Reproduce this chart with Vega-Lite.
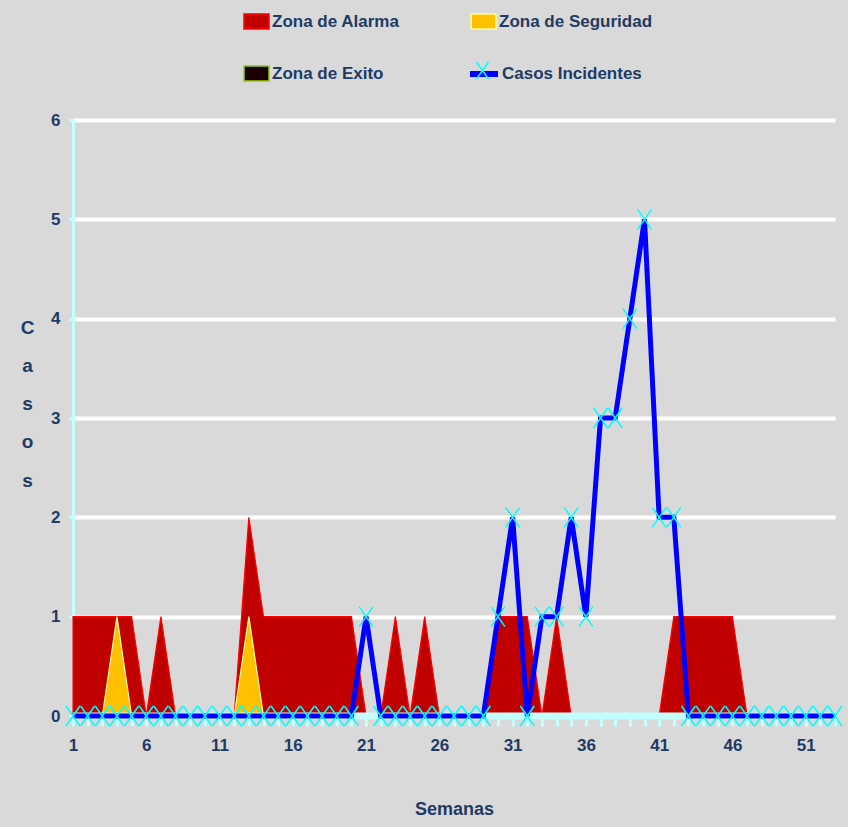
{
  "$schema": "https://vega.github.io/schema/vega-lite/v6.json",
  "width": 762,
  "height": 596,
  "autosize": {"type": "none"},
  "padding": {"left": 73, "top": 120, "right": 13, "bottom": 111},
  "background": "#D9D9D9",
  "config": {
    "view": {"stroke": null},
    "font": "Liberation Sans, Arial, sans-serif",
    "legend": {
      "labelFont": "Liberation Sans, Arial, sans-serif",
      "labelFontSize": 17,
      "labelFontWeight": "bold",
      "labelColor": "#1F3B63",
      "labelLimit": 300,
      "padding": 0
    }
  },
  "data": {
    "values": [
      {"semana": 1, "Zona de Alarma": 1, "Zona de Seguridad": 0, "Zona de Exito": 0, "casos": 0},
      {"semana": 2, "Zona de Alarma": 1, "Zona de Seguridad": 0, "Zona de Exito": 0, "casos": 0},
      {"semana": 3, "Zona de Alarma": 1, "Zona de Seguridad": 0, "Zona de Exito": 0, "casos": 0},
      {"semana": 4, "Zona de Alarma": 1, "Zona de Seguridad": 1, "Zona de Exito": 0, "casos": 0},
      {"semana": 5, "Zona de Alarma": 1, "Zona de Seguridad": 0, "Zona de Exito": 0, "casos": 0},
      {"semana": 6, "Zona de Alarma": 0, "Zona de Seguridad": 0, "Zona de Exito": 0, "casos": 0},
      {"semana": 7, "Zona de Alarma": 1, "Zona de Seguridad": 0, "Zona de Exito": 0, "casos": 0},
      {"semana": 8, "Zona de Alarma": 0, "Zona de Seguridad": 0, "Zona de Exito": 0, "casos": 0},
      {"semana": 9, "Zona de Alarma": 0, "Zona de Seguridad": 0, "Zona de Exito": 0, "casos": 0},
      {"semana": 10, "Zona de Alarma": 0, "Zona de Seguridad": 0, "Zona de Exito": 0, "casos": 0},
      {"semana": 11, "Zona de Alarma": 0, "Zona de Seguridad": 0, "Zona de Exito": 0, "casos": 0},
      {"semana": 12, "Zona de Alarma": 0, "Zona de Seguridad": 0, "Zona de Exito": 0, "casos": 0},
      {"semana": 13, "Zona de Alarma": 2, "Zona de Seguridad": 1, "Zona de Exito": 0, "casos": 0},
      {"semana": 14, "Zona de Alarma": 1, "Zona de Seguridad": 0, "Zona de Exito": 0, "casos": 0},
      {"semana": 15, "Zona de Alarma": 1, "Zona de Seguridad": 0, "Zona de Exito": 0, "casos": 0},
      {"semana": 16, "Zona de Alarma": 1, "Zona de Seguridad": 0, "Zona de Exito": 0, "casos": 0},
      {"semana": 17, "Zona de Alarma": 1, "Zona de Seguridad": 0, "Zona de Exito": 0, "casos": 0},
      {"semana": 18, "Zona de Alarma": 1, "Zona de Seguridad": 0, "Zona de Exito": 0, "casos": 0},
      {"semana": 19, "Zona de Alarma": 1, "Zona de Seguridad": 0, "Zona de Exito": 0, "casos": 0},
      {"semana": 20, "Zona de Alarma": 1, "Zona de Seguridad": 0, "Zona de Exito": 0, "casos": 0},
      {"semana": 21, "Zona de Alarma": 0, "Zona de Seguridad": 0, "Zona de Exito": 0, "casos": 1},
      {"semana": 22, "Zona de Alarma": 0, "Zona de Seguridad": 0, "Zona de Exito": 0, "casos": 0},
      {"semana": 23, "Zona de Alarma": 1, "Zona de Seguridad": 0, "Zona de Exito": 0, "casos": 0},
      {"semana": 24, "Zona de Alarma": 0, "Zona de Seguridad": 0, "Zona de Exito": 0, "casos": 0},
      {"semana": 25, "Zona de Alarma": 1, "Zona de Seguridad": 0, "Zona de Exito": 0, "casos": 0},
      {"semana": 26, "Zona de Alarma": 0, "Zona de Seguridad": 0, "Zona de Exito": 0, "casos": 0},
      {"semana": 27, "Zona de Alarma": 0, "Zona de Seguridad": 0, "Zona de Exito": 0, "casos": 0},
      {"semana": 28, "Zona de Alarma": 0, "Zona de Seguridad": 0, "Zona de Exito": 0, "casos": 0},
      {"semana": 29, "Zona de Alarma": 0, "Zona de Seguridad": 0, "Zona de Exito": 0, "casos": 0},
      {"semana": 30, "Zona de Alarma": 1, "Zona de Seguridad": 0, "Zona de Exito": 0, "casos": 1},
      {"semana": 31, "Zona de Alarma": 1, "Zona de Seguridad": 0, "Zona de Exito": 0, "casos": 2},
      {"semana": 32, "Zona de Alarma": 1, "Zona de Seguridad": 0, "Zona de Exito": 0, "casos": 0},
      {"semana": 33, "Zona de Alarma": 0, "Zona de Seguridad": 0, "Zona de Exito": 0, "casos": 1},
      {"semana": 34, "Zona de Alarma": 1, "Zona de Seguridad": 0, "Zona de Exito": 0, "casos": 1},
      {"semana": 35, "Zona de Alarma": 0, "Zona de Seguridad": 0, "Zona de Exito": 0, "casos": 2},
      {"semana": 36, "Zona de Alarma": 0, "Zona de Seguridad": 0, "Zona de Exito": 0, "casos": 1},
      {"semana": 37, "Zona de Alarma": 0, "Zona de Seguridad": 0, "Zona de Exito": 0, "casos": 3},
      {"semana": 38, "Zona de Alarma": 0, "Zona de Seguridad": 0, "Zona de Exito": 0, "casos": 3},
      {"semana": 39, "Zona de Alarma": 0, "Zona de Seguridad": 0, "Zona de Exito": 0, "casos": 4},
      {"semana": 40, "Zona de Alarma": 0, "Zona de Seguridad": 0, "Zona de Exito": 0, "casos": 5},
      {"semana": 41, "Zona de Alarma": 0, "Zona de Seguridad": 0, "Zona de Exito": 0, "casos": 2},
      {"semana": 42, "Zona de Alarma": 1, "Zona de Seguridad": 0, "Zona de Exito": 0, "casos": 2},
      {"semana": 43, "Zona de Alarma": 1, "Zona de Seguridad": 0, "Zona de Exito": 0, "casos": 0},
      {"semana": 44, "Zona de Alarma": 1, "Zona de Seguridad": 0, "Zona de Exito": 0, "casos": 0},
      {"semana": 45, "Zona de Alarma": 1, "Zona de Seguridad": 0, "Zona de Exito": 0, "casos": 0},
      {"semana": 46, "Zona de Alarma": 1, "Zona de Seguridad": 0, "Zona de Exito": 0, "casos": 0},
      {"semana": 47, "Zona de Alarma": 0, "Zona de Seguridad": 0, "Zona de Exito": 0, "casos": 0},
      {"semana": 48, "Zona de Alarma": 0, "Zona de Seguridad": 0, "Zona de Exito": 0, "casos": 0},
      {"semana": 49, "Zona de Alarma": 0, "Zona de Seguridad": 0, "Zona de Exito": 0, "casos": 0},
      {"semana": 50, "Zona de Alarma": 0, "Zona de Seguridad": 0, "Zona de Exito": 0, "casos": 0},
      {"semana": 51, "Zona de Alarma": 0, "Zona de Seguridad": 0, "Zona de Exito": 0, "casos": 0},
      {"semana": 52, "Zona de Alarma": 0, "Zona de Seguridad": 0, "Zona de Exito": 0, "casos": 0},
      {"semana": 53, "Zona de Alarma": 0, "Zona de Seguridad": 0, "Zona de Exito": 0, "casos": 0}
    ]
  },
  "encoding": {
    "x": {
      "field": "semana",
      "type": "quantitative",
      "scale": {"domain": [1, 53], "nice": false, "zero": false},
      "axis": {
        "title": "Semanas",
        "values": [1,2,3,4,5,6,7,8,9,10,11,12,13,14,15,16,17,18,19,20,21,22,23,24,25,26,27,28,29,30,31,32,33,34,35,36,37,38,39,40,41,42,43,44,45,46,47,48,49,50,51,52,53],
        "labelExpr": "(datum.value - 1) % 5 === 0 ? datum.label : ''",
        "grid": false,
        "domain": false,
        "tickColor": "#C4FFFF",
        "tickWidth": 3,
        "tickSize": 10,
        "labelPadding": 11,
        "labelFontSize": 17,
        "labelFontWeight": "bold",
        "labelColor": "#1F3B63",
        "labelFlush": false,
        "titleFontSize": 18,
        "titleFontWeight": "bold",
        "titleColor": "#1F3B63",
        "titlePadding": 47
      }
    }
  },
  "layer": [
    {
      "transform": [
        {"fold": ["Zona de Alarma", "Zona de Seguridad", "Zona de Exito"], "as": ["zona", "valor"]}
      ],
      "mark": {"type": "area", "strokeWidth": 1.2, "fillOpacity": 1},
      "encoding": {
        "y": {
          "field": "valor",
          "type": "quantitative",
          "stack": null,
          "scale": {"domain": [0, 6], "nice": false},
          "axis": {
            "title": ["C", "a", "s", "o", "s"],
            "titleAngle": 0,
            "titleAlign": "center",
            "titleBaseline": "top",
            "titleX": -46,
            "titleY": 198,
            "titleLineHeight": 38.3,
            "titleFontSize": 19,
            "titleFontWeight": "bold",
            "titleColor": "#1F3B63",
            "values": [0, 1, 2, 3, 4, 5, 6],
            "format": "d",
            "grid": true,
            "gridColor": {"condition": {"test": "datum.value === 0", "value": "transparent"}, "value": "#FFFFFF"},
            "gridWidth": 4,
            "gridOpacity": 1,
            "domainColor": "#C4FFFF",
            "domainWidth": 3,
            "tickColor": "#C4FFFF",
            "tickWidth": 3,
            "tickSize": 4,
            "labelPadding": 9,
            "labelFontSize": 17,
            "labelFontWeight": "bold",
            "labelColor": "#1F3B63"
          }
        },
        "fill": {
          "field": "zona",
          "type": "nominal",
          "scale": {
            "domain": ["Zona de Alarma", "Zona de Seguridad", "Zona de Exito"],
            "range": ["#C00000", "#FFC000", "#1A0000"]
          },
          "legend": {
            "orient": "none", "legendX": 170, "legendY": -112, "columns": 2, "direction": "horizontal",
            "columnPadding": 68, "rowPadding": 28, "title": null,
            "values": ["Zona de Alarma", "Zona de Seguridad", "Zona de Exito"],
            "symbolType": "M-1,-0.6H1V0.6H-1Z", "symbolSize": 625, "symbolStrokeWidth": 1.5,
            "labelOffset": 2
          }
        },
        "stroke": {
          "condition": {"test": "datum.zona === 'Zona de Exito'", "value": "transparent"},
          "field": "zona",
          "type": "nominal",
          "scale": {
            "domain": ["Zona de Alarma", "Zona de Seguridad", "Zona de Exito"],
            "range": ["#FF0000", "#FFFF99", "#99CC00"]
          },
          "legend": {
            "orient": "none", "legendX": 170, "legendY": -112, "columns": 2, "direction": "horizontal",
            "columnPadding": 68, "rowPadding": 28, "title": null,
            "values": ["Zona de Alarma", "Zona de Seguridad", "Zona de Exito"],
            "symbolType": "M-1,-0.6H1V0.6H-1Z", "symbolSize": 625, "symbolStrokeWidth": 1.5,
            "labelOffset": 2
          }
        }
      }
    },
    {
      "data": {"values": [{"inicio": 1, "fin": 53, "base": 0}]},
      "mark": {"type": "rule", "color": "#C4FFFF", "strokeWidth": 7},
      "encoding": {
        "x": {"field": "inicio", "type": "quantitative"},
        "x2": {"field": "fin"},
        "y": {"field": "base", "type": "quantitative"}
      }
    },
    {
      "mark": {"type": "line", "color": "#0000FF", "strokeWidth": 5},
      "encoding": {
        "y": {"field": "casos", "type": "quantitative"},
        "strokeDash": {
          "datum": "Casos Incidentes",
          "type": "nominal",
          "scale": {"domain": ["Casos Incidentes"], "range": [[1, 0]]},
          "legend": {
            "orient": "none", "legendX": 394, "legendY": -63, "title": null,
            "symbolType": "stroke", "symbolStrokeColor": "#0000FF", "symbolStrokeWidth": 6,
            "symbolSize": 784, "labelOffset": 1
          }
        }
      }
    },
    {
      "mark": {"type": "point", "filled": false, "stroke": "#00FFFF", "strokeWidth": 1.5, "size": 400, "opacity": 1},
      "encoding": {
        "y": {"field": "casos", "type": "quantitative"},
        "shape": {
          "datum": "Casos",
          "type": "nominal",
          "scale": {"range": ["M-0.7,-1L0.7,1M0.7,-1L-0.7,1"]},
          "legend": {
            "orient": "none", "legendX": 400, "legendY": -59, "title": null,
            "symbolStrokeColor": "#00FFFF", "symbolFillColor": "transparent", "symbolStrokeWidth": 1.5,
            "symbolSize": 289, "labelExpr": "''"
          }
        }
      }
    },
    {
      "data": {"values": [{"etiqueta": "Zona de Epidemia"}]},
      "mark": {"type": "text", "align": "left", "baseline": "middle", "fontSize": 17, "fontWeight": "bold", "color": "#1F3B63"},
      "encoding": {
        "x": {"datum": 12.7},
        "y": {"datum": 5.75},
        "text": {"field": "etiqueta"}
      }
    }
  ]
}
